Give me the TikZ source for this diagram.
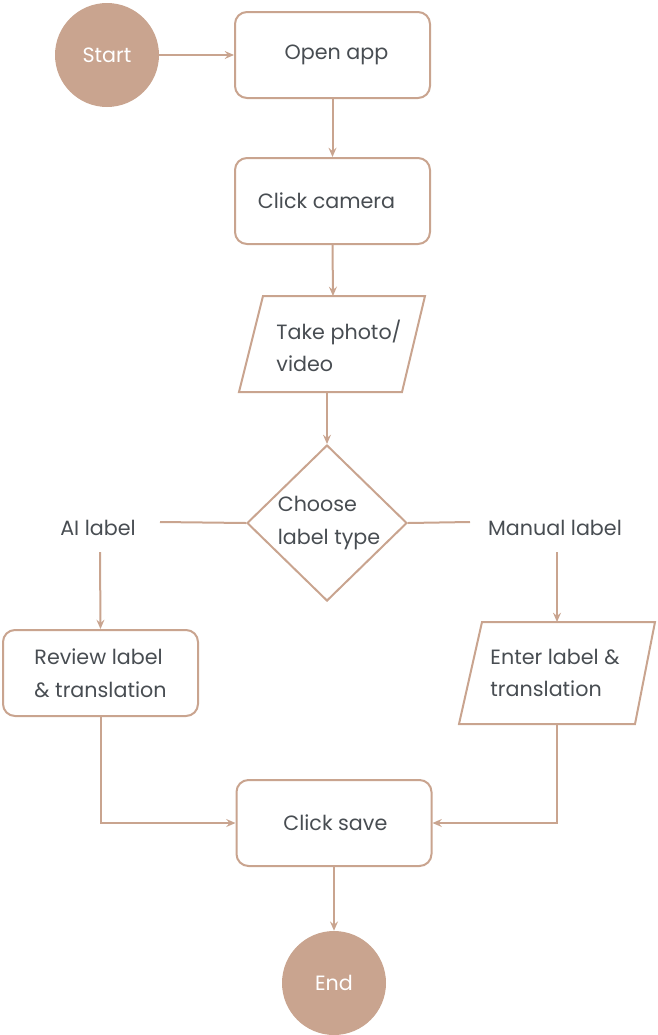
\documentclass[tikz,border=0pt]{standalone}
\usepackage{fontspec}
\setmainfont{Poppins}
\usetikzlibrary{arrows.meta,shapes.geometric}
\definecolor{edgec}{RGB}{201,164,143}
\definecolor{txtc}{RGB}{72,77,82}
\begin{document}
\begin{tikzpicture}[x=0.75pt,y=-0.75pt,
  every node/.style={font=\fontsize{15.5pt}{24.5pt}\selectfont, text=txtc},
  procbox/.style={draw=edgec, line width=1.5pt, rounded corners=9pt, minimum width=146.25pt, minimum height=64.5pt, fill=white},
  termc/.style={circle, fill=edgec, minimum size=78pt, inner sep=0pt, text=white},
  shp/.style={draw=edgec, line width=1.5pt, line join=miter},
  conn/.style={draw=edgec, line width=1.5pt},
  arr/.style={conn, -{Stealth[length=7pt,width=6pt,inset=2.5pt]}},
  txtblock/.style={align=left, inner sep=0pt}
]
\useasboundingbox (0,0) rectangle (657,1035);

% terminals
\node[termc] (start) at (107,55) {Start};
\node[termc] (end) at (334,983) {End};

% process boxes
\node[procbox] (open) at (332.5,55) {\hspace{6pt}Open app};
\node[procbox] (camera) at (332.5,201) {\hspace{-9pt}Click camera};
\node[procbox] (review) at (100.5,673) {};
\node[txtblock] (reviewtxt) at (100.5,673) {Review label\\\& translation};
\node[procbox] (save) at (334,823) {\hspace{2pt}Click save};

% parallelogram: take photo
\draw[shp] (263,296) -- (425,296) -- (402,392) -- (239,392) -- cycle;
\coordinate (phototop) at (333,296);
\coordinate (photobot) at (327,392);
\node[txtblock] (phototxt) at (339,346) {Take photo/\\video};

% parallelogram: enter label
\draw[shp] (482,622) -- (655,622) -- (635,724) -- (459,724) -- cycle;
\coordinate (entertop) at (557,622);
\coordinate (enterbot) at (557,724);
\node[txtblock] (entertxt) at (555,673) {Enter label \&\\translation};

% decision
\node[shp, diamond, aspect=1.03, minimum width=120pt, minimum height=117pt, inner sep=0pt] (dec) at (327,523) {};
\node[txtblock] (dectxt) at (329,523) {Choose\\label type};

% branch labels
\node (ai) at (98,528) {AI label};
\node (manual) at (555,528) {Manual label};
\coordinate (aileft) at (160,522);
\coordinate (manright) at (470,522);
\coordinate (aidown) at (100,552);
\coordinate (mandown) at (557,552);

% connectors
\draw[arr] (start.east) -- (open.west);
\draw[arr] (open.south) -- (camera.north);
\draw[arr] (camera.south) -- (phototop);
\draw[arr] (photobot) -- (dec.north);
\draw[conn] (dec.west) -- (aileft);
\draw[conn] (dec.east) -- (manright);
\draw[arr] (aidown) -- (review.north);
\draw[arr] (mandown) -- (entertop);
\draw[arr] (review.south) -- (review.south |- save.west) -- (save.west);
\draw[arr] (enterbot) -- (enterbot |- save.east) -- (save.east);
\draw[arr] (save.south) -- (end.north);
\end{tikzpicture}
\end{document}
